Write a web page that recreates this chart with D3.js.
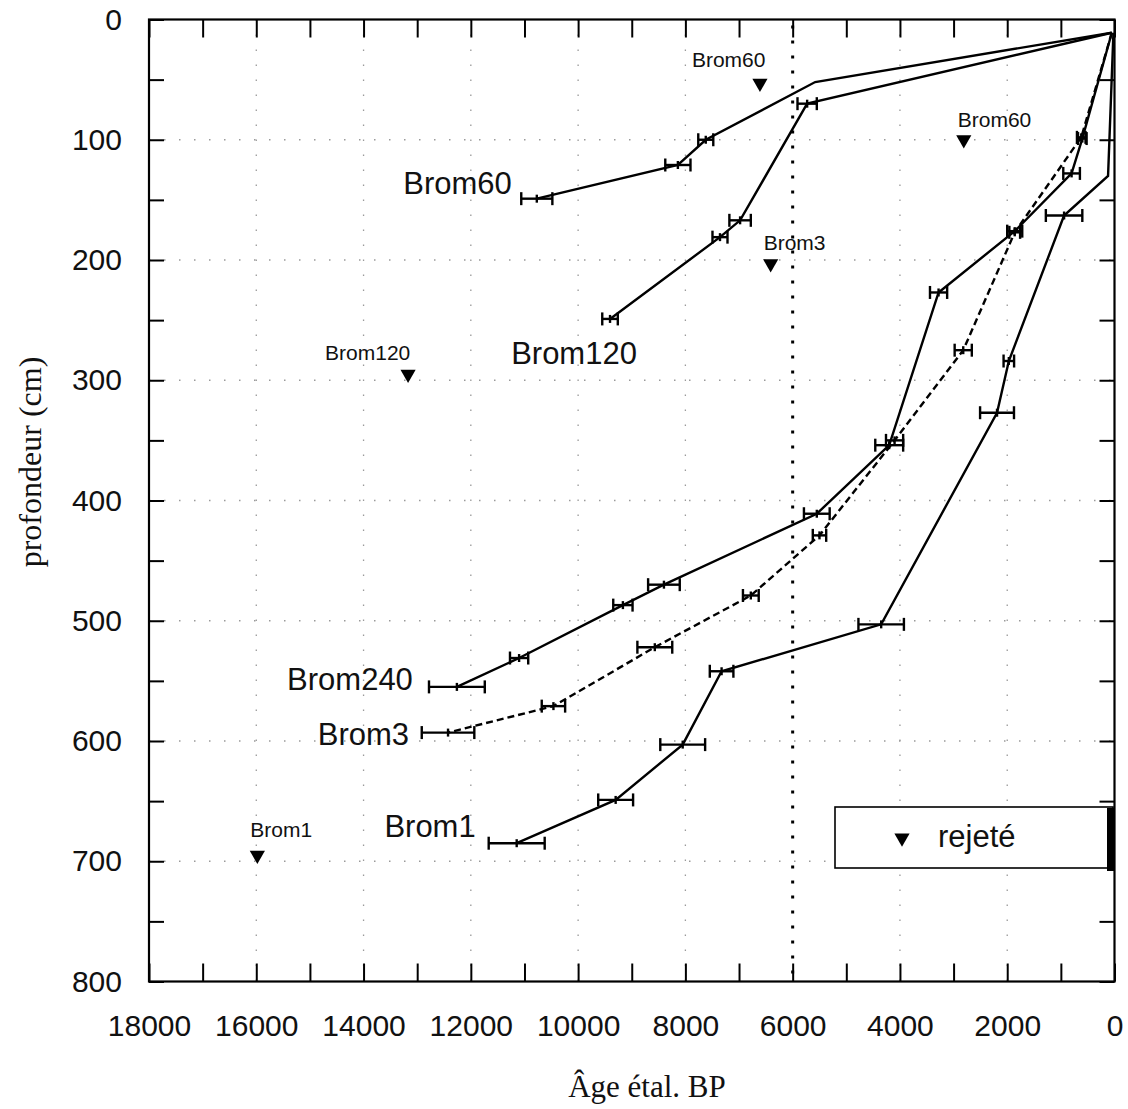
<!DOCTYPE html>
<html>
<head>
<meta charset="utf-8">
<style>
  body { margin: 0; background: #fff; }
  svg { display: block; font-family: 'Liberation Sans', Arial, sans-serif; }
  .serif { font-family: 'Liberation Serif', 'Times New Roman', serif; }
</style>
<title>Brom age-depth</title>
</head>
<body>
<svg width="1128" height="1109"></svg>
<script src="https://d3js.org/d3.v7.min.js"></script>
<script>
// [age cal BP, depth cm, +/- error in years]
const brom60 = [[50, 11, 0], [5580, 52, 0], [7620, 100, 140], [8140, 121, 235], [10770, 149, 290]];
const brom120 = [[50, 11, 0], [5730, 70, 180], [6980, 167, 200], [7355, 181, 140], [9405, 249, 145]];
const brom240 = [[50, 11, 0], [600, 99, 80], [800, 128, 155], [1860, 176, 140], [3280, 227, 160],
                 [4200, 354, 260], [5550, 411, 240], [8400, 470, 295], [9165, 487, 180],
                 [11100, 531, 170], [12260, 555, 520]];
const brom3 = [[50, 11, 0], [620, 98, 80], [1860, 177, 100], [2820, 275, 160], [4100, 350, 160],
               [5500, 429, 125], [6780, 479, 147], [8570, 522, 325], [10460, 571, 218], [12425, 593, 490]];
const brom1 = [[20, 11, 0], [120, 130, 0], [940, 163, 340], [1970, 284, 98], [2190, 327, 316],
               [4350, 503, 424], [7325, 542, 220], [8050, 603, 418], [9300, 649, 325], [11145, 685, 522]];

const seriesNames = ['Brom60', 'Brom120', 'Brom240', 'Brom3', 'Brom1'];
const seriesData = [brom60, brom120, brom240, brom3, brom1];
const seriesDashed = [false, false, false, true, false];

// rejected dates
const rejNames = ['Brom60', 'Brom60', 'Brom3', 'Brom120', 'Brom1'];
const rejAges = [6610, 2810, 6410, 13170, 15980];
const rejDepths = [53, 100, 203, 295, 695];

const xTicks = d3.range(0, 18001, 1000);
const yTicks = d3.range(0, 801, 50);

// layout helpers (offsets of text, not data)
const rejLabelOff = [[-68, -16], [-6, -13], [-7, -14], [-83, -14], [-7, -18]];
const seriesLabelOff = [[-25, -5, 'end'], [-36, 45, 'middle'], [-44, 3, 'end'], [-39, 12, 'end'], [-41, -6, 'end']];

const svg = d3.select('svg');
const mLeft = 149, mRight = 1114.5, mTop = 19.5, mBottom = 981.5;

const x = d3.scaleLinear().domain([18000, 0]).range([mLeft, mRight]);
const y = d3.scaleLinear().domain([0, 800]).range([mTop, mBottom]);

// grid
const grid = svg.append('g');
grid.selectAll('.vg')
  .data(d3.range(2000, 18000, 2000).filter(d => d !== 6000))
  .join('line')
  .attr('x1', d => x(d)).attr('x2', d => x(d))
  .attr('y1', mTop).attr('y2', mBottom)
  .attr('stroke', '#9a9a9a').attr('stroke-width', 1.3)
  .attr('stroke-dasharray', '1.5,13.5');
grid.selectAll('.hg')
  .data(d3.range(100, 800, 100))
  .join('line')
  .attr('x1', mLeft).attr('x2', mRight)
  .attr('y1', d => y(d)).attr('y2', d => y(d))
  .attr('stroke', '#9a9a9a').attr('stroke-width', 1.3)
  .attr('stroke-dasharray', '1.5,13.5');
// 6000 reference line
svg.append('line')
  .attr('x1', x(6000)).attr('x2', x(6000))
  .attr('y1', mTop + 6).attr('y2', mBottom)
  .attr('stroke', '#000').attr('stroke-width', 3)
  .attr('stroke-dasharray', '3,12');

// axes (ticks pointing inward)
svg.append('g')
  .attr('transform', `translate(0,${mBottom})`)
  .call(d3.axisBottom(x).tickValues(xTicks).tickSizeInner(-18).tickSizeOuter(0).tickPadding(33)
    .tickFormat(d => d % 2000 === 0 ? d : ''))
  .call(g => g.select('.domain').remove())
  .call(g => g.selectAll('text').attr('font-size', 30).attr('font-family', null).attr('fill', '#111'));
svg.append('g')
  .attr('transform', `translate(0,${mTop})`)
  .call(d3.axisTop(x).tickValues(xTicks).tickSizeInner(-18).tickSizeOuter(0).tickFormat(''))
  .call(g => g.select('.domain').remove());
svg.append('g')
  .attr('transform', `translate(${mLeft},0)`)
  .call(d3.axisLeft(y).tickValues(yTicks).tickSizeInner(-15).tickSizeOuter(0).tickPadding(27)
    .tickFormat(d => d % 100 === 0 ? d : ''))
  .call(g => g.select('.domain').remove())
  .call(g => g.selectAll('text').attr('font-size', 30).attr('font-family', null).attr('fill', '#111'));
svg.append('g')
  .attr('transform', `translate(${mRight},0)`)
  .call(d3.axisRight(y).tickValues(yTicks).tickSizeInner(-15).tickSizeOuter(0).tickFormat(''))
  .call(g => g.select('.domain').remove());
svg.selectAll('.tick line').attr('stroke', '#000').attr('stroke-width', 2);

svg.append('rect')
  .attr('x', mLeft).attr('y', mTop)
  .attr('width', mRight - mLeft).attr('height', mBottom - mTop)
  .attr('fill', 'none').attr('stroke', '#000').attr('stroke-width', 2.2);

// series
const line = d3.line().x(d => x(d[0])).y(d => y(d[1]));
seriesData.forEach((data, i) => {
  const g = svg.append('g');
  g.append('path')
    .attr('d', line(data))
    .attr('fill', 'none').attr('stroke', '#000').attr('stroke-width', 2.4)
    .attr('stroke-dasharray', seriesDashed[i] ? '7,4' : null);

  const bars = g.selectAll('.bar').data(data.filter(d => d[2] > 0)).join('g');
  bars.append('line')
    .attr('x1', d => x(d[0] + d[2])).attr('x2', d => x(d[0] - d[2]))
    .attr('y1', d => y(d[1])).attr('y2', d => y(d[1]));
  bars.append('line')
    .attr('x1', d => x(d[0] + d[2])).attr('x2', d => x(d[0] + d[2]))
    .attr('y1', d => y(d[1]) - 6.5).attr('y2', d => y(d[1]) + 6.5);
  bars.append('line')
    .attr('x1', d => x(d[0] - d[2])).attr('x2', d => x(d[0] - d[2]))
    .attr('y1', d => y(d[1]) - 6.5).attr('y2', d => y(d[1]) + 6.5);
  bars.append('line')
    .attr('x1', d => x(d[0])).attr('x2', d => x(d[0]))
    .attr('y1', d => y(d[1]) - 4).attr('y2', d => y(d[1]) + 4);
  bars.selectAll('line').attr('stroke', '#000').attr('stroke-width', 2.4);

  const last = data[data.length - 1];
  const off = seriesLabelOff[i];
  g.append('text')
    .attr('x', x(last[0]) + off[0])
    .attr('y', y(last[1]) + off[1])
    .attr('text-anchor', off[2])
    .attr('font-size', 31)
    .attr('fill', '#111')
    .text(seriesNames[i]);
});

// rejected dates
const tri = d3.symbol(d3.symbolTriangle, 100);
rejAges.forEach((a, i) => {
  svg.append('path')
    .attr('d', tri())
    .attr('transform', `translate(${x(a)},${y(rejDepths[i])}) rotate(180)`)
    .attr('fill', '#000');
  svg.append('text')
    .attr('x', x(a) + rejLabelOff[i][0])
    .attr('y', y(rejDepths[i]) + rejLabelOff[i][1])
    .attr('font-size', 21)
    .attr('fill', '#111')
    .text(rejNames[i]);
});

// legend
const lg = svg.append('g');
lg.append('rect')
  .attr('x', 835).attr('y', 807).attr('width', 278).attr('height', 61)
  .attr('fill', '#fff').attr('stroke', '#000').attr('stroke-width', 1.6);
lg.append('rect')
  .attr('x', 1107).attr('y', 808).attr('width', 7).attr('height', 63)
  .attr('fill', '#000');
lg.append('path')
  .attr('d', tri())
  .attr('transform', 'translate(902,838) rotate(180)')
  .attr('fill', '#000');
lg.append('text')
  .attr('x', 938).attr('y', 847)
  .attr('font-size', 31).attr('fill', '#111')
  .text('rejeté');

// axis titles
svg.append('text')
  .attr('class', 'serif')
  .attr('x', 647).attr('y', 1097)
  .attr('text-anchor', 'middle')
  .attr('font-size', 31).attr('fill', '#111')
  .text('Âge étal. BP');
svg.append('text')
  .attr('class', 'serif')
  .attr('transform', 'translate(41,462) rotate(-90)')
  .attr('text-anchor', 'middle')
  .attr('font-size', 32).attr('fill', '#111')
  .text('profondeur (cm)');
</script>
</body>
</html>
